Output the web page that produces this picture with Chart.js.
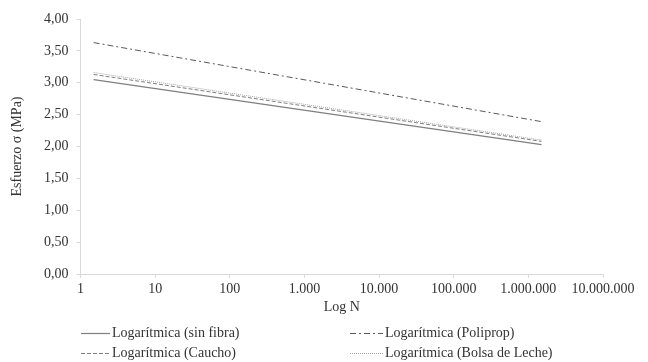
<!DOCTYPE html>
<html lang="es">
<head>
    <meta charset="UTF-8">
    <script src="https://cdn.jsdelivr.net/npm/chart.js"></script>
    <title>Esfuerzo vs Log N</title>
    <style>
        html, body { margin: 0; padding: 0; background: #fff; }
        .chart-wrapper { position: relative; width: 648px; height: 362px; }
    </style>
</head>
<body>
    <div class="chart-wrapper">
        <canvas id="myChart"></canvas>
    </div>

    <script>
        // data (trendline end points)
        const nValues = [1.5, 1500000];
        const sinFibra = [3.05, 2.03];
        const poliprop = [3.63, 2.39];
        const caucho = [3.13, 2.08];
        const bolsaLeche = [3.16, 2.10];

        const seriesNames = [
            'Logarítmica (sin fibra)',
            'Logarítmica (Poliprop)',
            'Logarítmica (Caucho)',
            'Logarítmica (Bolsa de Leche)'
        ];

        const xTicks = [1, 10, 100, 1000, 10000, 100000, 1000000, 10000000];
        const yTicks = [0, 0.5, 1, 1.5, 2, 2.5, 3, 3.5, 4];

        const FONT = "'Liberation Serif', 'Times New Roman', serif";
        const TEXT = '#333333';
        const AXIS = '#d9d9d9';

        function toPoints(ys) {
            return nValues.map((n, i) => ({ x: n, y: ys[i] }));
        }

        function thousands(v) {
            return String(Math.round(v)).replace(/\B(?=(\d{3})+(?!\d))/g, '.');
        }

        const styles = [
            { color: '#7f7f7f', dash: [], width: 1.2 },
            { color: '#595959', dash: [6, 3, 2, 3], width: 1 },
            { color: '#7f7f7f', dash: [4, 2], width: 1 },
            { color: '#a6a6a6', dash: [1, 1], width: 1 }
        ];

        const seriesData = [sinFibra, poliprop, caucho, bolsaLeche];

        // legend in two columns under the axis title
        const legendPlugin = {
            id: 'twoColLegend',
            afterDraw(chart) {
                const ctx = chart.ctx;
                const spots = [
                    { x: 81, y: 333, len: 29 }, { x: 350, y: 333, len: 33 },
                    { x: 81, y: 353, len: 29 }, { x: 350, y: 353, len: 33 }
                ];
                ctx.save();
                ctx.font = '14px ' + FONT;
                ctx.textBaseline = 'middle';
                chart.data.datasets.forEach((ds, i) => {
                    const p = spots[i];
                    ctx.beginPath();
                    ctx.strokeStyle = ds.borderColor;
                    ctx.lineWidth = ds.borderWidth;
                    ctx.setLineDash(ds.borderDash || []);
                    ctx.moveTo(p.x, p.y + 0.5);
                    ctx.lineTo(p.x + p.len, p.y + 0.5);
                    ctx.stroke();
                    ctx.setLineDash([]);
                    ctx.fillStyle = TEXT;
                    ctx.fillText(ds.label, p.x + p.len + 2, p.y);
                });
                ctx.restore();
            }
        };

        const ctx = document.getElementById('myChart').getContext('2d');

        const myChart = new Chart(ctx, {
            type: 'line',
            data: {
                datasets: seriesData.map((ys, i) => ({
                    label: seriesNames[i],
                    data: toPoints(ys),
                    borderColor: styles[i].color,
                    borderDash: styles[i].dash,
                    borderWidth: styles[i].width,
                    pointRadius: 0,
                    fill: false,
                    tension: 0
                }))
            },
            plugins: [legendPlugin],
            options: {
                responsive: true,
                maintainAspectRatio: false,
                animation: false,
                layout: {
                    padding: { left: 0, right: 45, top: 19, bottom: 44 }
                },
                plugins: {
                    legend: { display: false },
                    tooltip: { enabled: false }
                },
                scales: {
                    x: {
                        type: 'logarithmic',
                        min: 1,
                        max: 10000000,
                        afterBuildTicks: scale => {
                            scale.ticks = xTicks.map(v => ({ value: v }));
                        },
                        afterFit: scale => { scale.height = 44; },
                        grid: {
                            drawOnChartArea: false,
                            drawTicks: true,
                            tickLength: 4,
                            color: AXIS
                        },
                        border: { display: true, color: AXIS },
                        ticks: {
                            color: TEXT,
                            padding: 3,
                            maxRotation: 0,
                            autoSkip: false,
                            font: { family: FONT, size: 14 },
                            callback: v => thousands(v)
                        },
                        title: {
                            display: true,
                            text: 'Log N',
                            color: TEXT,
                            font: { family: FONT, size: 14 },
                            padding: { top: 0, bottom: 2 }
                        }
                    },
                    y: {
                        min: 0,
                        max: 4,
                        afterBuildTicks: scale => {
                            scale.ticks = yTicks.map(v => ({ value: v }));
                        },
                        afterFit: scale => { scale.width = 80.5; },
                        grid: {
                            drawOnChartArea: false,
                            drawTicks: true,
                            tickLength: 4,
                            color: AXIS
                        },
                        border: { display: true, color: AXIS },
                        ticks: {
                            color: TEXT,
                            padding: 8,
                            font: { family: FONT, size: 14 },
                            callback: v => v.toFixed(2).replace('.', ',')
                        },
                        title: {
                            display: true,
                            text: 'Esfuerzo σ (MPa)',
                            color: TEXT,
                            font: { family: FONT, size: 14 },
                            padding: { top: 9, bottom: 0 }
                        }
                    }
                }
            }
        });
    </script>
</body>
</html>
